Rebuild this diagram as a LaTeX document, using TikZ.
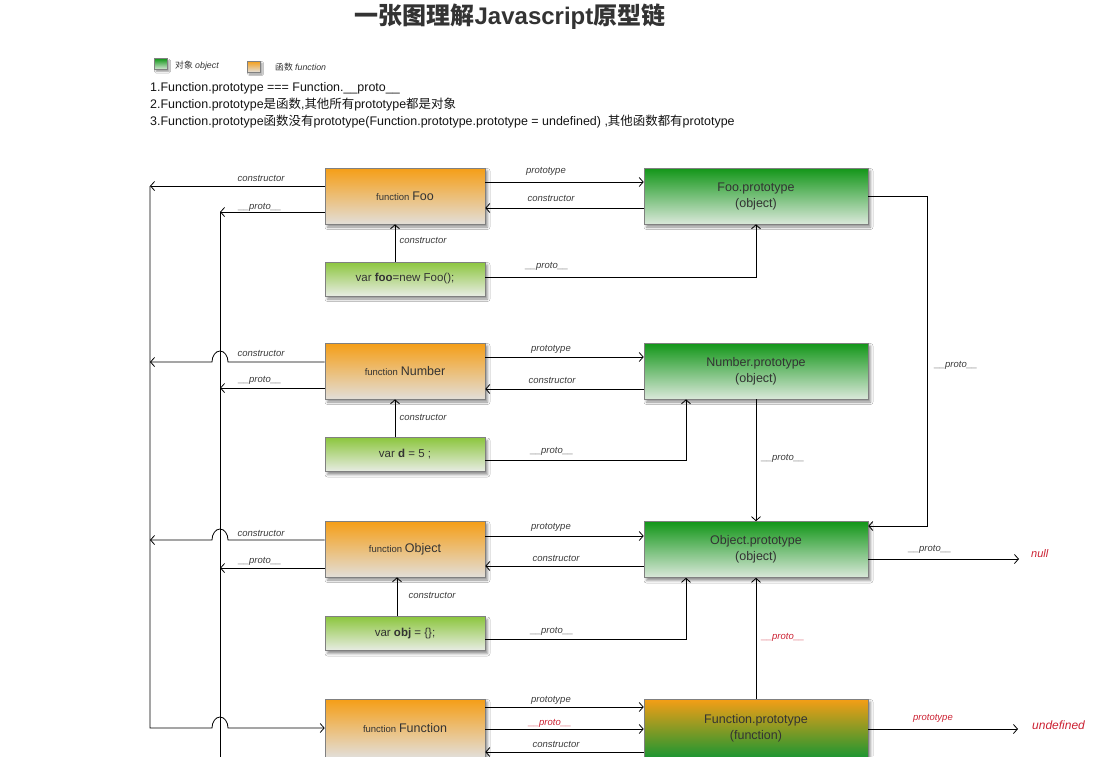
\documentclass[tikz,border=0pt]{standalone}
\usepackage{fontspec}
\setmainfont{Liberation Sans}
\newfontfamily\cjk{Noto Sans CJK SC}
\usetikzlibrary{arrows.meta,shadows.blur}
\definecolor{orangeT}{RGB}{245,158,22}
\definecolor{orangeB}{RGB}{226,222,216}
\definecolor{greenT}{RGB}{18,150,24}
\definecolor{greenB}{RGB}{218,232,218}
\definecolor{limeT}{RGB}{140,198,62}
\definecolor{limeB}{RGB}{232,236,228}
\definecolor{fpB}{RGB}{30,150,50}
\definecolor{txtc}{RGB}{51,51,51}
\definecolor{notec}{RGB}{20,20,20}
\definecolor{lblc}{RGB}{60,60,60}
\definecolor{redc}{RGB}{204,34,51}
\definecolor{bordc}{RGB}{128,128,128}
\newcommand\protolbl{\_\_proto\_\_}
\tikzset{
  jbox/.style={draw=bordc, line width=0.6pt, inner sep=0pt, align=center, text=txtc,
    blur shadow={shadow xshift=2.5pt, shadow yshift=-3pt, shadow blur radius=2.5pt, shadow opacity=45}},
  fnbox/.style={jbox, minimum width=160pt, minimum height=56pt, top color=orangeT, bottom color=orangeB},
  objbox/.style={jbox, minimum width=224pt, minimum height=56pt, top color=greenT, bottom color=greenB,
    font=\fontsize{12.5}{16}\selectfont},
  varbox/.style={jbox, minimum width=160pt, minimum height=34pt, top color=limeT, bottom color=limeB,
    font=\fontsize{11.5}{14}\selectfont},
  legsq/.style={draw=bordc, line width=0.5pt, minimum width=13pt, minimum height=11pt, inner sep=0pt,
    blur shadow={shadow xshift=1.5pt, shadow yshift=-2pt, shadow blur radius=1.5pt, shadow opacity=40}},
  legtxt/.style={anchor=west, font=\fontsize{8.8}{10}\selectfont, text=txtc, inner sep=0pt},
  lbl/.style={font=\fontsize{9.5}{11}\selectfont\itshape, text=lblc, inner sep=0pt},
  rlbl/.style={lbl, text=redc},
  note/.style={anchor=west, font=\fontsize{12.45}{14}\selectfont, text=notec, inner sep=0pt},
  conn/.style={line width=0.8pt, draw=black},
  arr/.style={conn, -{Straight Barb[length=4pt, width=9pt]}},
}
\newcommand\fnlabel[1]{{\fontsize{9.5}{10}\selectfont function} {\fontsize{12.5}{14}\selectfont #1}}
\begin{document}
\begin{tikzpicture}[x=1pt, y=-1pt]
\path[use as bounding box, fill=white] (0,0) rectangle (1097,756);

% title
\node[font=\fontsize{24}{28}\selectfont\bfseries, text=txtc] (title) at (510,17)
  {{\cjk 一张图理解}Javascript{\cjk 原型链}};

% legend
\node[legsq, top color=greenT, bottom color=greenB] (legobj) at (161,64) {};
\node[legtxt] (legobjt) at (175,66) {{\cjk 对象} \textit{object}};
\node[legsq, top color=orangeT, bottom color=orangeB] (legfn) at (254,66.5) {};
\node[legtxt] (legfnt) at (275,67) {{\cjk 函数} \textit{function}};

% notes
\node[note] (n1) at (150,88) {1.Function.prototype === Function.\protolbl};
\node[note] (n2) at (150,105) {2.Function.prototype{\cjk 是函数},{\cjk 其他所有}prototype{\cjk 都是对象}};
\node[note] (n3) at (150,122) {3.Function.prototype{\cjk 函数没有}prototype(Function.prototype.prototype = undefined) ,{\cjk 其他函数都有}prototype};

% boxes
\node[fnbox] (foo) at (405,196) {\fnlabel{Foo}};
\node[objbox] (foop) at (756,196) {Foo.prototype\\(object)};
\node[varbox] (vfoo) at (405,279) {var \textbf{foo}=new Foo();};

\node[fnbox] (num) at (405,371) {\fnlabel{Number}};
\node[objbox] (nump) at (756,371) {Number.prototype\\(object)};
\node[varbox] (vd) at (405,454.5) {var \textbf{d} = 5 ;};

\node[fnbox] (obj) at (405,549) {\fnlabel{Object}};
\node[objbox] (objp) at (756,549.5) {Object.prototype\\(object)};
\node[varbox] (vobj) at (405,633.5) {var \textbf{obj} = \{\};};

\node[fnbox, minimum height=58pt] (fun) at (405,728) {\fnlabel{Function}};
\node[objbox, minimum height=58pt, top color=orangeT, bottom color=fpB] (funp) at (756,728) {Function.prototype\\(function)};

\node[anchor=west, font=\fontsize{11}{12}\selectfont\itshape, text=redc, inner sep=0pt] (nulln) at (1031,554) {null};
\node[anchor=west, font=\fontsize{12}{13}\selectfont\itshape, text=redc, inner sep=0pt] (undef) at (1032,725) {undefined};

% spine coordinates
\coordinate (c1) at (150,186);
\coordinate (c2) at (150,362);
\coordinate (c3) at (150,540);
\coordinate (c4) at (150,728);
\coordinate (p1) at (220,212);
\coordinate (p2) at (220,388);
\coordinate (p3) at (220,568);
\coordinate (pend) at (220,762);

% Foo row
\draw[arr] ([yshift=14pt]foo.east) -- ([yshift=14pt]foop.west);
\draw[arr] ([yshift=-12pt]foop.west) -- ([yshift=-12pt]foo.east);
\draw[arr] ([yshift=10pt]foo.west) -- (c1);
\draw[arr] ([yshift=-16pt]foo.west) -- (p1);
\draw[arr] ([xshift=-10pt]vfoo.north) -- ([xshift=-10pt]foo.south);
\draw[arr] ([yshift=2pt]vfoo.east) -| (foop.south);
\draw[arr] (foop.east) -- ++(59pt,0pt) |- ([yshift=23.5pt]objp.east);

% Number row
\draw[arr] ([yshift=14pt]num.east) -- ([yshift=14pt]nump.west);
\draw[arr] ([yshift=-18pt]nump.west) -- ([yshift=-18pt]num.east);
\draw[arr] ([yshift=9pt]num.west) -- (228,362) arc[start angle=0, end angle=180, x radius=8pt, y radius=11pt] -- (c2);
\draw[arr] ([yshift=-17pt]num.west) -- (p2);
\draw[arr] ([xshift=-10pt]vd.north) -- ([xshift=-10pt]num.south);
\draw[arr] ([yshift=-5.5pt]vd.east) -| ([xshift=-70pt]nump.south);
\draw[arr] (nump.south) -- (objp.north);

% Object row
\draw[arr] ([yshift=13pt]obj.east) -- ([yshift=13.5pt]objp.west);
\draw[arr] ([yshift=-16.5pt]objp.west) -- ([yshift=-17pt]obj.east);
\draw[arr] ([yshift=9pt]obj.west) -- (228,540) arc[start angle=0, end angle=180, x radius=8pt, y radius=11pt] -- (c3);
\draw[arr] ([yshift=-19pt]obj.west) -- (p3);
\draw[arr] ([xshift=-8pt]vobj.north) -- ([xshift=-8pt]obj.south);
\draw[arr] ([yshift=-5.5pt]vobj.east) -| ([xshift=-70pt]objp.south);
\draw[arr] ([yshift=-9.5pt]objp.east) -- ([xshift=-12pt,yshift=-5pt]nulln.west);
\draw[arr] (funp.north) -- (objp.south);

% Function row
\draw[arr] ([yshift=21pt]fun.east) -- ([yshift=21pt]funp.west);
\draw[arr] ([yshift=-1pt]fun.east) -- ([yshift=-1pt]funp.west);
\draw[arr] ([yshift=-24pt]funp.west) -- ([yshift=-24pt]fun.east);
\draw[arr] ([yshift=-1pt]funp.east) -- ([xshift=-14pt,yshift=-4pt]undef.west);

% spines
\draw[arr] (c1) -- (c4) -- (212,728) arc[start angle=180, end angle=0, x radius=8pt, y radius=11pt] -- (fun.west);
\draw[conn] (p1) -- (pend);

% labels
\node[lbl] (l1) at (261,178) {constructor};
\node[lbl] (l2) at (260,207) {\protolbl};
\node[lbl] (l3) at (546,171) {prototype};
\node[lbl] (l4) at (551,198) {constructor};
\node[lbl] (l5) at (423,240) {constructor};
\node[lbl] (l6) at (547,266) {\protolbl};
\node[lbl] (l7) at (956,365) {\protolbl};

\node[lbl] (l8) at (261,353) {constructor};
\node[lbl] (l9) at (260,380) {\protolbl};
\node[lbl] (l10) at (551,349) {prototype};
\node[lbl] (l11) at (552,380) {constructor};
\node[lbl] (l12) at (423,417) {constructor};
\node[lbl] (l13) at (552,451) {\protolbl};
\node[lbl] (l14) at (783,458) {\protolbl};

\node[lbl] (l15) at (261,533) {constructor};
\node[lbl] (l16) at (260,561) {\protolbl};
\node[lbl] (l17) at (551,527) {prototype};
\node[lbl] (l18) at (556,558) {constructor};
\node[lbl] (l19) at (432,595) {constructor};
\node[lbl] (l20) at (552,631) {\protolbl};
\node[lbl] (l21) at (930,549) {\protolbl};
\node[rlbl] (l22) at (783,637) {\protolbl};

\node[lbl] (l23) at (551,700) {prototype};
\node[rlbl] (l24) at (550,723) {\protolbl};
\node[lbl] (l25) at (556,744) {constructor};
\node[rlbl] (l26) at (933,718) {prototype};
\end{tikzpicture}
\end{document}
